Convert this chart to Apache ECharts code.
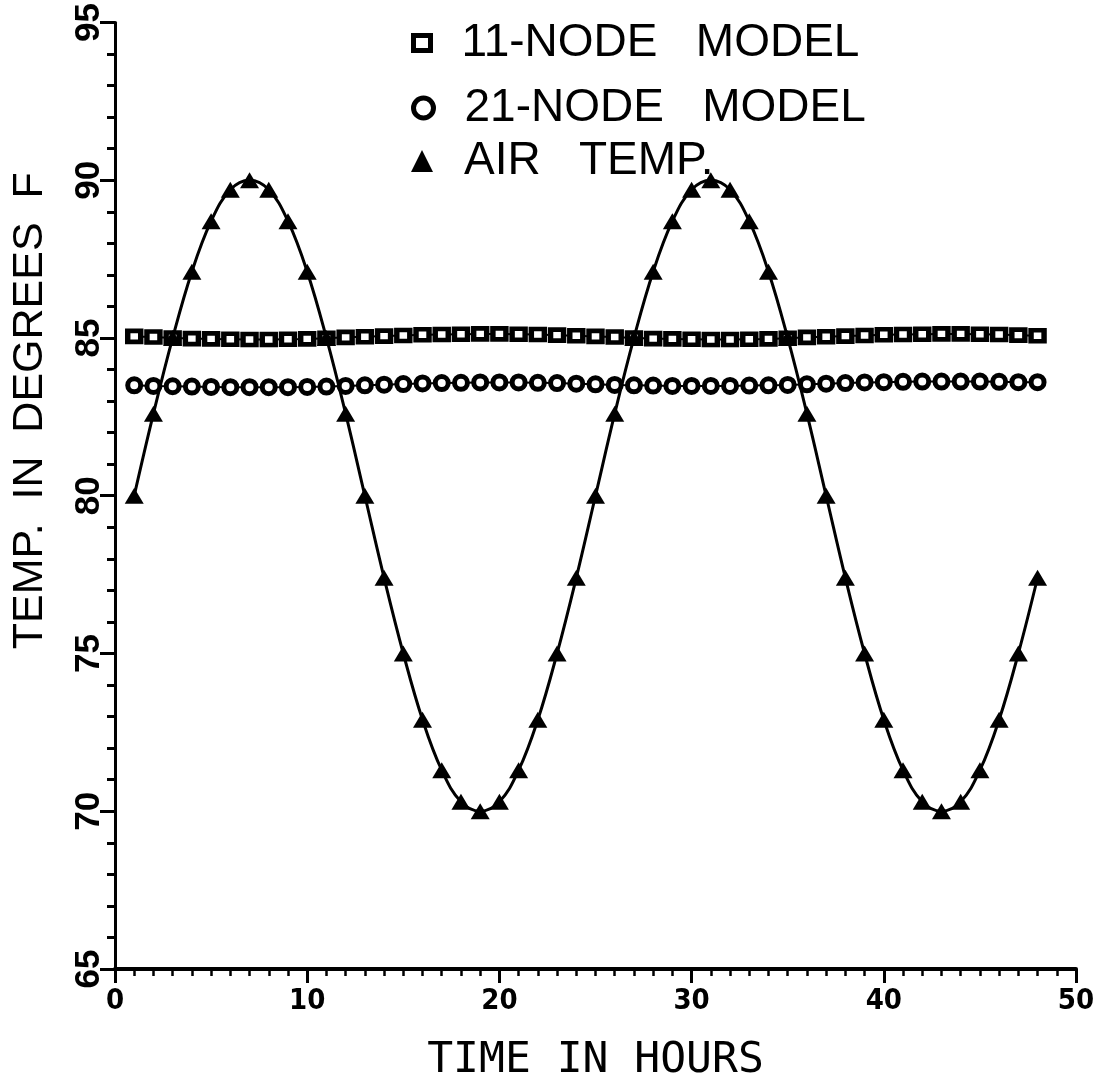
<!DOCTYPE html>
<html>
<head>
<meta charset="utf-8">
<script src="https://cdn.jsdelivr.net/npm/echarts@6/dist/echarts.min.js"></script>
<style>
  html, body { margin: 0; padding: 0; background: #fff; }
  #chart { width: 1108px; height: 1087px; }
</style>
</head>
<body>
<div id="chart"></div>
<script>
// time in hours
var hours = [1, 2, 3, 4, 5, 6, 7, 8, 9, 10, 11, 12, 13, 14, 15, 16, 17, 18, 19, 20, 21, 22, 23, 24,
  25, 26, 27, 28, 29, 30, 31, 32, 33, 34, 35, 36, 37, 38, 39, 40, 41, 42, 43, 44, 45, 46, 47, 48];

// 11-node model
var node11 = [85.05, 85.03, 85.0, 84.98, 84.97, 84.96, 84.95, 84.95, 84.96, 84.97, 84.99, 85.02,
  85.04, 85.06, 85.08, 85.1, 85.11, 85.12, 85.13, 85.13, 85.12, 85.11, 85.09, 85.07,
  85.05, 85.03, 85.0, 84.98, 84.97, 84.96, 84.95, 84.95, 84.96, 84.97, 84.99, 85.02,
  85.04, 85.06, 85.08, 85.1, 85.11, 85.12, 85.13, 85.13, 85.12, 85.11, 85.09, 85.07];

// 21-node model
var node21 = [83.5, 83.48, 83.47, 83.46, 83.45, 83.44, 83.44, 83.44, 83.44, 83.45, 83.46, 83.48,
  83.5, 83.52, 83.54, 83.56, 83.57, 83.58, 83.59, 83.59, 83.59, 83.58, 83.57, 83.55,
  83.53, 83.51, 83.5, 83.49, 83.48, 83.48, 83.48, 83.48, 83.49, 83.5, 83.51, 83.53,
  83.55, 83.57, 83.59, 83.6, 83.61, 83.62, 83.62, 83.62, 83.62, 83.61, 83.6, 83.6];

// air temperature
var airTemp = [80.0, 82.6, 85.0, 87.1, 88.7, 89.7, 90.0, 89.7, 88.7, 87.1, 85.0, 82.6,
  80.0, 77.4, 75.0, 72.9, 71.3, 70.3, 70.0, 70.3, 71.3, 72.9, 75.0, 77.4,
  80.0, 82.6, 85.0, 87.1, 88.7, 89.7, 90.0, 89.7, 88.7, 87.1, 85.0, 82.6,
  80.0, 77.4, 75.0, 72.9, 71.3, 70.3, 70.0, 70.3, 71.3, 72.9, 75.0, 77.4];

var seriesNames = ['11-NODE   MODEL', '21-NODE   MODEL', 'AIR   TEMP.'];

function pairs(ys) {
  return hours.map(function (h, i) { return [h, ys[i]]; });
}

var legendText = {
  color: '#000',
  fontFamily: 'Liberation Sans',
  fontSize: 46,
  lineHeight: 46,
  padding: [0, 0, 0, 26]
};

// hollow marker look: white fill, heavy black outline
var hollow = { color: '#fff', borderColor: '#000', borderWidth: 5 };

var myChart = echarts.init(document.getElementById('chart'));
myChart.setOption({
  animation: false,
  backgroundColor: '#fff',
  grid: { left: 115, right: 32, top: 22, bottom: 107 },
  legend: [
    {
      left: 406, top: 15, itemWidth: 17, itemHeight: 15,
      textStyle: legendText,
      data: [{ name: seriesNames[0], icon: 'rect', itemStyle: hollow }]
    },
    {
      left: 406, top: 80, itemWidth: 20, itemHeight: 20,
      textStyle: legendText,
      data: [{ name: seriesNames[1], icon: 'circle', itemStyle: hollow }]
    },
    {
      left: 406, top: 133, itemWidth: 22, itemHeight: 22,
      textStyle: legendText,
      data: [{ name: seriesNames[2], icon: 'triangle',
        itemStyle: { color: '#000', borderWidth: 0 } }]
    }
  ],
  xAxis: {
    type: 'value',
    min: 0,
    max: 50,
    interval: 10,
    name: 'TIME IN HOURS',
    nameLocation: 'middle',
    nameGap: 70,
    nameTextStyle: { color: '#000', fontFamily: 'DejaVu Sans Mono', fontSize: 43, lineHeight: 43 },
    axisLine: { show: true, lineStyle: { color: '#000', width: 4 } },
    axisTick: { show: true, length: 14, lineStyle: { color: '#000', width: 3 } },
    minorTick: { show: true, splitNumber: 10, length: 7, lineStyle: { color: '#000', width: 2.5 } },
    axisLabel: {
      color: '#000', fontFamily: 'DejaVu Sans Condensed', fontWeight: 'bold',
      fontSize: 29, lineHeight: 29, margin: 18
    },
    splitLine: { show: false }
  },
  yAxis: {
    type: 'value',
    min: 65,
    max: 95,
    interval: 5,
    name: 'TEMP.  IN  DEGREES  F',
    nameLocation: 'middle',
    nameRotate: 90,
    nameGap: 63,
    nameTextStyle: {
      color: '#000', fontFamily: 'Liberation Sans', fontSize: 43, lineHeight: 43,
      padding: [0, 0, 0, 170]
    },
    axisLine: { show: true, lineStyle: { color: '#000', width: 3 } },
    axisTick: { show: true, length: 15, lineStyle: { color: '#000', width: 3 } },
    minorTick: { show: true, splitNumber: 5, length: 8, lineStyle: { color: '#000', width: 3 } },
    axisLabel: {
      color: '#000', fontFamily: 'Liberation Sans', fontWeight: 'bold',
      fontSize: 35, lineHeight: 35, rotate: 90, margin: 8
    },
    splitLine: { show: false }
  },
  series: [
    {
      name: seriesNames[0],
      type: 'line',
      data: pairs(node11),
      symbol: 'rect',
      symbolSize: [13, 11],
      itemStyle: hollow,
      lineStyle: { color: '#000', width: 2 },
      z: 2
    },
    {
      name: seriesNames[1],
      type: 'line',
      data: pairs(node21),
      symbol: 'circle',
      symbolSize: 13,
      itemStyle: hollow,
      lineStyle: { color: '#000', width: 2 },
      z: 2
    },
    {
      name: seriesNames[2],
      type: 'line',
      data: pairs(airTemp),
      smooth: 0.4,
      symbol: 'triangle',
      symbolSize: [19, 16],
      itemStyle: { color: '#000' },
      lineStyle: { color: '#000', width: 3 },
      z: 3
    }
  ]
});
</script>
</body>
</html>
